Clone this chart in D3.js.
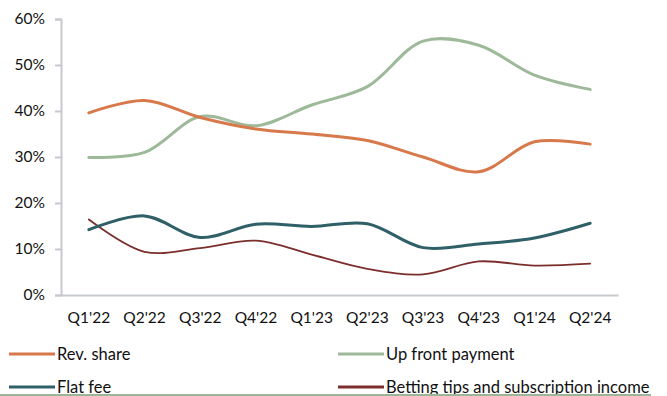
<!DOCTYPE html>
<html>
<head>
<meta charset="utf-8">
<script src="https://cdn.jsdelivr.net/npm/d3@7"></script>
<style>
  body { margin: 0; background: #fff; }
  text { font-family: Lato, "Open Sans", sans-serif; fill: #111; }
</style>
</head>
<body>
<script>
// quarters on the x axis
var quarters = ["Q1'22", "Q2'22", "Q3'22", "Q4'22", "Q1'23", "Q2'23", "Q3'23", "Q4'23", "Q1'24", "Q2'24"];

// share of income per model, in %
var revShare = [39.6, 42.3, 38.6, 36.1, 35.0, 33.6, 30.0, 26.8, 33.3, 32.8];
var upFront = [29.9, 31.0, 38.8, 36.8, 41.3, 45.3, 55.2, 54.3, 47.8, 44.7];
var flatFee = [14.2, 17.2, 12.5, 15.4, 14.9, 15.5, 10.3, 11.1, 12.4, 15.6];
var bettingTips = [16.4, 9.4, 10.2, 11.8, 8.8, 5.7, 4.5, 7.3, 6.4, 6.8];

var yTicks = [0, 10, 20, 30, 40, 50, 60];

var width = 667, height = 396;

var svg = d3.select("body")
  .append("svg")
    .attr("width", width)
    .attr("height", height);

var x = d3.scaleBand()
  .domain(quarters)
  .range([61, 618]);

var y = d3.scaleLinear()
  .domain([0, 60])
  .range([295, 19]);

// y axis with small ticks on the left
var yAxis = svg.append("g")
  .attr("transform", "translate(61,0)")
  .call(d3.axisLeft(y).tickValues(yTicks).tickSize(6).tickPadding(10)
    .tickFormat(function(d){ return d + "%"; }));
yAxis.select(".domain").attr("stroke", "#c6c9cd").attr("stroke-width", 2);
yAxis.selectAll(".tick line").attr("stroke", "#c6c9cd").attr("stroke-width", 2);
yAxis.selectAll("text").style("font-size", "15.5px").attr("fill", "#111");

// x axis, just the line and labels
var xAxis = svg.append("g")
  .attr("transform", "translate(0,295)")
  .call(d3.axisBottom(x).tickSize(0).tickPadding(17));
xAxis.select(".domain").attr("stroke", "#c6c9cd").attr("stroke-width", 2);
xAxis.selectAll("text").style("font-size", "15.5px").attr("fill", "#111");

var series = [
  { name: "Rev. share", values: revShare, color: "#d8794b", w: 3 },
  { name: "Up front payment", values: upFront, color: "#9db999", w: 3 },
  { name: "Flat fee", values: flatFee, color: "#2f6068", w: 3 },
  { name: "Betting tips and subscription income", values: bettingTips, color: "#7b2e2c", w: 1.8 }
];

var line = d3.line()
  .x(function(d, i){ return x(quarters[i]) + x.bandwidth() / 2; })
  .y(function(d){ return y(d); })
  .curve(d3.curveCatmullRom.alpha(0.5));

// draw betting first so the thick lines sit on top
svg.selectAll(".series")
  .data(series.slice().reverse())
  .enter()
  .append("path")
    .attr("class", "series")
    .attr("fill", "none")
    .attr("stroke", function(d){ return d.color; })
    .attr("stroke-width", function(d){ return d.w; })
    .attr("stroke-linecap", "round")
    .attr("d", function(d){ return line(d.values); });

// legend, two columns by two rows
var legendPos = [[9, 354], [338, 354], [9, 387], [338, 387]];
var legend = svg.selectAll(".legend")
  .data(series)
  .enter()
  .append("g")
    .attr("class", "legend")
    .attr("transform", function(d, i){ return "translate(" + legendPos[i][0] + "," + legendPos[i][1] + ")"; });

legend.append("line")
  .attr("x1", 0).attr("x2", 46)
  .attr("stroke", function(d){ return d.color; })
  .attr("stroke-width", 3);

legend.append("text")
  .attr("x", 48)
  .attr("dy", "0.35em")
  .style("font-size", "16.5px")
  .text(function(d){ return d.name; });

// green rule along the bottom
svg.append("line")
  .attr("x1", 0).attr("x2", 651)
  .attr("y1", 395).attr("y2", 395)
  .attr("stroke", "#9bb597")
  .attr("stroke-width", 2);
</script>
</body>
</html>
